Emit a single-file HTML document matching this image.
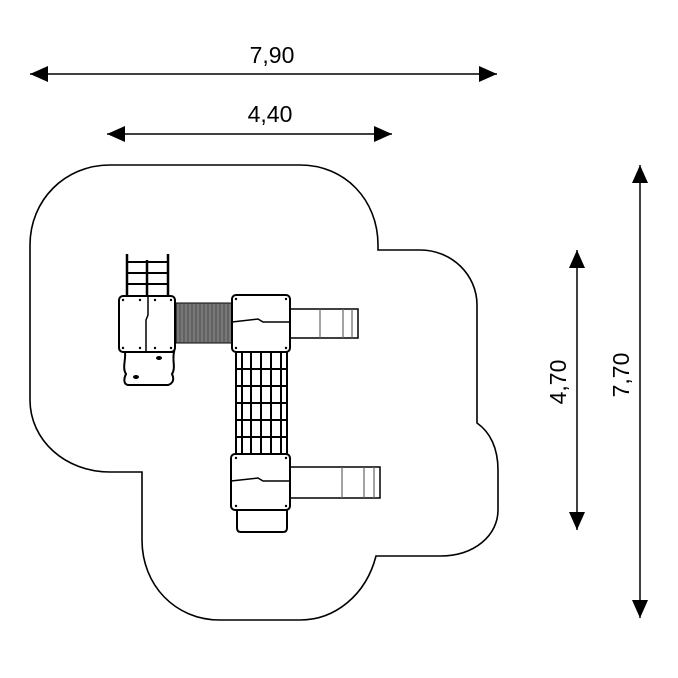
<!DOCTYPE html>
<html><head><style>body{margin:0;background:#fff}svg{display:block}</style></head><body>
<svg width="678" height="678" viewBox="0 0 678 678" xmlns="http://www.w3.org/2000/svg" font-family="Liberation Sans, sans-serif">
<defs>
<marker id="a" viewBox="0 0 10 10" refX="10" refY="5" markerWidth="9" markerHeight="9" markerUnits="userSpaceOnUse" orient="auto-start-reverse"><path d="M0,0 L10,5 L0,10z" fill="#000"/></marker>
</defs>
<g stroke="#000" stroke-width="2" marker-start="url(#a)" marker-end="url(#a)" fill="none">
<line x1="30" y1="74" x2="497" y2="74" stroke-width="1.5" style="marker-start:none;marker-end:none"/>
<line x1="107" y1="134" x2="392" y2="134" stroke-width="1.5" style="marker-start:none;marker-end:none"/>
<line x1="577" y1="250" x2="577" y2="530" stroke-width="1.5" style="marker-start:none;marker-end:none"/>
<line x1="640" y1="165" x2="640" y2="618" stroke-width="1.5" style="marker-start:none;marker-end:none"/>
</g>
<g fill="#000">
<path d="M30,74 l18,-8 v16z M497,74 l-18,-8 v16z"/>
<path d="M107,134 l18,-8 v16z M392,134 l-18,-8 v16z"/>
<path d="M577,250 l-8,18 h16z M577,530 l-8,-18 h16z"/>
<path d="M640,165 l-8,18 h16z M640,618 l-8,-18 h16z"/>
</g>
<g font-size="23" fill="#000">
<text x="272" y="63" text-anchor="middle">7,90</text>
<text x="270" y="122" text-anchor="middle">4,40</text>
<text transform="translate(566,382) rotate(-90)" text-anchor="middle">4,70</text>
<text transform="translate(629,375) rotate(-90)" text-anchor="middle">7,70</text>
</g>
<path d="M110,165 H300 C345,165 378,200 378,245 V250 H420 C452,250 477,275 477,305 V423 C490,432 498,448 498,470 V510 C498,535 475,556 440,556 H376 C366,595 335,620 300,620 H220 C175,620 142,585 142,540 V472 H110 C65,472 30,440 30,400 V245 C30,200 65,165 110,165 Z" fill="none" stroke="#000" stroke-width="1.6"/>
<g stroke="#000" fill="none">
<!-- ladder -->
<path d="M127,295 V254 M168,295 V254 M147,260 V295" stroke-width="2.5"/>
<path d="M127,262 H168 M127,273 H168 M127,284 H168" stroke-width="2"/>
<!-- rock -->
<path d="M125,352 H174 C172,360 176,368 172,374 C175,380 172,384 168,385 H128 C123,384 124,378 126,374 C122,368 126,360 125,352Z" fill="#fff" stroke-width="2"/>
<!-- tube -->
<rect x="176" y="303" width="56" height="40" fill="#777" stroke-width="1"/>
<g stroke="#444" stroke-width="0.8"><path d="M180,303V343M184,303V343M188,303V343M192,303V343M196,303V343M200,303V343M204,303V343M208,303V343M212,303V343M216,303V343M220,303V343M224,303V343M228,303V343"/></g>
<!-- left deck -->
<rect x="119" y="296" width="56" height="56" rx="4" fill="#fff" stroke-width="2"/>
<path d="M148,296 V315 L146,320 V352" stroke-width="1.5"/>
<!-- slides -->
<rect x="290" y="309" width="68" height="29" fill="#fff" stroke-width="1.5"/>
<path d="M320,309V338M343,309V338M352,309V338" stroke="#666" stroke-width="1.2"/>
<rect x="290" y="467" width="90" height="31" fill="#fff" stroke-width="1.5"/>
<path d="M342,467V498M364,467V498M374,467V498" stroke="#666" stroke-width="1.2"/>
<!-- net -->
<rect x="236" y="352" width="51" height="103" fill="#fff" stroke-width="2"/>
<path d="M242,352V455M251,352V455M261,352V455M271,352V455M281,352V455" stroke-width="2"/>
<path d="M236,369H287M236,386H287M236,403H287M236,420H287M236,437H287" stroke-width="2"/>
<!-- step -->
<path d="M237,510 V528 Q237,532 241,532 H283 Q287,532 287,528 V510" stroke-width="2"/>
<!-- decks -->
<rect x="232" y="295" width="58" height="57" rx="4" fill="#fff" stroke-width="2"/>
<path d="M232,322 L258,319 L263,322 H290" stroke-width="1.5"/>
<rect x="231" y="454" width="59" height="56" rx="4" fill="#fff" stroke-width="2"/>
<path d="M231,481 L258,478 L263,481 H290" stroke-width="1.5"/>
</g>
<g fill="#000">
<circle cx="123" cy="300" r="1.2"/><circle cx="171" cy="300" r="1.2"/><circle cx="123" cy="348" r="1.2"/><circle cx="171" cy="348" r="1.2"/>
<circle cx="140" cy="300" r="1.2"/><circle cx="155" cy="300" r="1.2"/><circle cx="140" cy="348" r="1.2"/><circle cx="155" cy="348" r="1.2"/>
<circle cx="236" cy="299" r="1.2"/><circle cx="286" cy="299" r="1.2"/><circle cx="236" cy="348" r="1.2"/><circle cx="286" cy="348" r="1.2"/>
<circle cx="236" cy="458" r="1.2"/><circle cx="286" cy="458" r="1.2"/><circle cx="236" cy="506" r="1.2"/><circle cx="286" cy="506" r="1.2"/>
<ellipse cx="159" cy="358" rx="3" ry="2"/><ellipse cx="136" cy="377" rx="3" ry="2"/>
</g>
</svg>
</body></html>
